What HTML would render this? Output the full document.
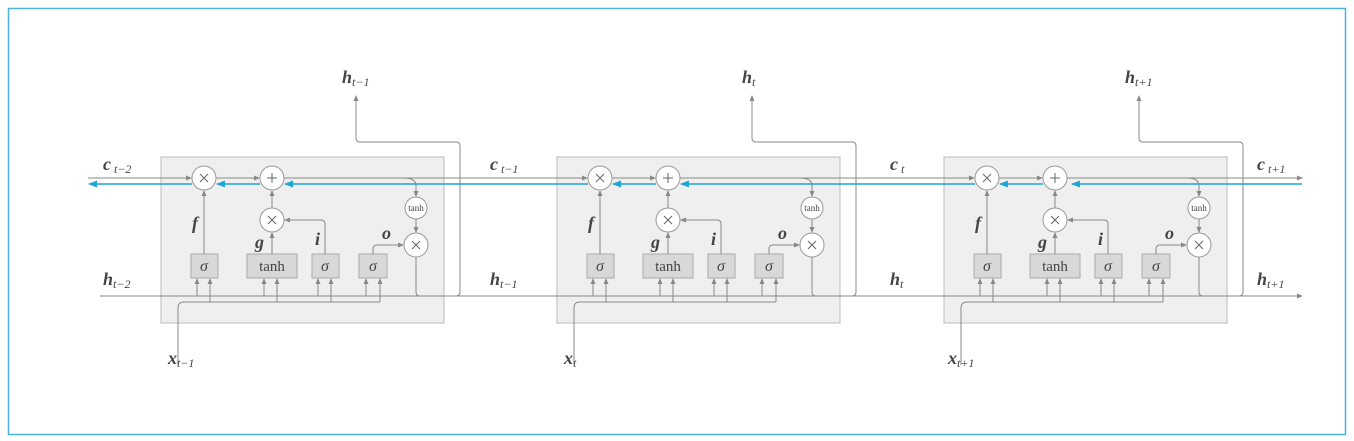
<!DOCTYPE html>
<html><head><meta charset="utf-8"><style>
html,body{margin:0;padding:0;background:#fff;width:1354px;height:441px;overflow:hidden}
svg{display:block}
text{font-family:"Liberation Serif",serif;fill:#444}
.lab{font-weight:bold;font-style:italic;font-size:18px}
.sub{font-style:italic;font-size:12px;font-weight:normal}
</style></head><body>
<svg width="1354" height="441" viewBox="0 0 1354 441" xmlns="http://www.w3.org/2000/svg">
<defs>
<marker id="a" markerWidth="6" markerHeight="6" refX="5" refY="3" orient="auto" markerUnits="userSpaceOnUse"><path d="M0,0.5 L6,3 L0,5.5z" fill="#888"/></marker>
<marker id="b" markerWidth="9" markerHeight="8" refX="8" refY="4" orient="auto" markerUnits="userSpaceOnUse"><path d="M0,0.5 L9,4 L0,7.5z" fill="#1fa4d6"/></marker>
<g id="cell" fill="none" stroke="#888" stroke-width="1">
<rect x="161" y="157" width="283" height="166" fill="#efefef" stroke="#bbb"/>
<path d="M197 296V279" marker-end="url(#a)"/>
<path d="M264 296V279" marker-end="url(#a)"/>
<path d="M318 296V279" marker-end="url(#a)"/>
<path d="M366 296V279" marker-end="url(#a)"/>
<path d="M178 365V308Q178 302 184 302H380" />
<path d="M210 302V279" marker-end="url(#a)"/>
<path d="M277 302V279" marker-end="url(#a)"/>
<path d="M331 302V279" marker-end="url(#a)"/>
<path d="M380 302V279" marker-end="url(#a)"/>
<rect x="191" y="254" width="27" height="24" fill="#d8d8d8" stroke="#aaa"/>
<rect x="247" y="254" width="50" height="24" fill="#d8d8d8" stroke="#aaa"/>
<rect x="312" y="254" width="27" height="24" fill="#d8d8d8" stroke="#aaa"/>
<rect x="359" y="254" width="28" height="24" fill="#d8d8d8" stroke="#aaa"/>
<path d="M204 254V191" marker-end="url(#a)"/>
<path d="M272 254V233" marker-end="url(#a)"/>
<path d="M272 208V191" marker-end="url(#a)"/>
<path d="M325 254V224Q325 220 321 220H285" marker-end="url(#a)"/>
<path d="M373 254V249Q373 245 377 245H403" marker-end="url(#a)"/>
<path d="M216 178H259" marker-end="url(#a)"/>
<path d="M404 178Q416 178 416 186V196" marker-end="url(#a)"/>
<path d="M416 219V232" marker-end="url(#a)"/>
<path d="M416 257V292Q416 296 420 296H456Q460 296 460 292V146Q460 142 456 142H360Q356 142 356 138V96" marker-end="url(#a)"/>
<circle cx="204" cy="178" r="12" fill="#fff" stroke="#999"/>
<circle cx="272" cy="178" r="12" fill="#fff" stroke="#999"/>
<circle cx="272" cy="220" r="12" fill="#fff" stroke="#999"/>
<circle cx="416" cy="208" r="11" fill="#fff" stroke="#999"/>
<circle cx="416" cy="245" r="12" fill="#fff" stroke="#999"/>
<path d="M200 174l8 8M208 174l-8 8M268 216l8 8M276 216l-8 8M412 241l8 8M420 241l-8 8M267 178h10M272 173v10" stroke="#666"/>
</g>
<g id="ctext">
<text x="204" y="271" text-anchor="middle" style="font-style:italic;font-size:16px">σ</text>
<text x="272" y="271" text-anchor="middle" style="font-size:15px">tanh</text>
<text x="325" y="271" text-anchor="middle" style="font-style:italic;font-size:16px">σ</text>
<text x="373" y="271" text-anchor="middle" style="font-style:italic;font-size:16px">σ</text>
<text x="416" y="211" text-anchor="middle" style="font-size:9px">tanh</text>
<text x="192" y="229" class="lab">f</text>
<text x="255" y="248" class="lab">g</text>
<text x="315" y="245" class="lab">i</text>
<text x="382" y="239" class="lab">o</text>
</g>
</defs>
<rect x="8.5" y="8.5" width="1337" height="426" fill="none" stroke="#4ab3d8" stroke-width="1.5"/>
<use href="#cell"/><use href="#cell" x="396"/><use href="#cell" x="783"/>
<use href="#ctext"/><use href="#ctext" x="396"/><use href="#ctext" x="783"/>
<g fill="none" stroke="#888">
<path d="M88 178H191" marker-end="url(#a)"/>
<path d="M284 178H587" marker-end="url(#a)"/>
<path d="M680 178H974" marker-end="url(#a)"/>
<path d="M1067 178H1302" marker-end="url(#a)"/>
<path d="M100 296H1302" marker-end="url(#a)"/>
</g>
<g fill="none" stroke="#1fa4d6" stroke-width="1.5">
<path d="M1302 184H1072" marker-end="url(#b)"/>
<path d="M1043 184H1000" marker-end="url(#b)"/>
<path d="M975 184H681" marker-end="url(#b)"/>
<path d="M656 184H613" marker-end="url(#b)"/>
<path d="M588 184H285" marker-end="url(#b)"/>
<path d="M260 184H217" marker-end="url(#b)"/>
<path d="M192 184H89" marker-end="url(#b)"/>
</g>
<text x="103" y="170" class="lab">c<tspan class="sub" dx="3" dy="3">t−2</tspan></text>
<text x="103" y="285" class="lab">h<tspan class="sub" dy="3">t−2</tspan></text>
<text x="168" y="364" class="lab">x<tspan class="sub" dy="3">t−1</tspan></text>
<text x="342" y="83" class="lab">h<tspan class="sub" dy="3">t−1</tspan></text>
<text x="490" y="170" class="lab">c<tspan class="sub" dx="3" dy="3">t−1</tspan></text>
<text x="490" y="285" class="lab">h<tspan class="sub" dy="3">t−1</tspan></text>
<text x="564" y="364" class="lab">x<tspan class="sub" dy="3">t</tspan></text>
<text x="742" y="83" class="lab">h<tspan class="sub" dy="3">t</tspan></text>
<text x="890" y="170" class="lab">c<tspan class="sub" dx="3" dy="3">t</tspan></text>
<text x="890" y="285" class="lab">h<tspan class="sub" dy="3">t</tspan></text>
<text x="948" y="364" class="lab">x<tspan class="sub" dy="3">t+1</tspan></text>
<text x="1125" y="83" class="lab">h<tspan class="sub" dy="3">t+1</tspan></text>
<text x="1257" y="170" class="lab">c<tspan class="sub" dx="3" dy="3">t+1</tspan></text>
<text x="1257" y="285" class="lab">h<tspan class="sub" dy="3">t+1</tspan></text>
</svg>
</body></html>
